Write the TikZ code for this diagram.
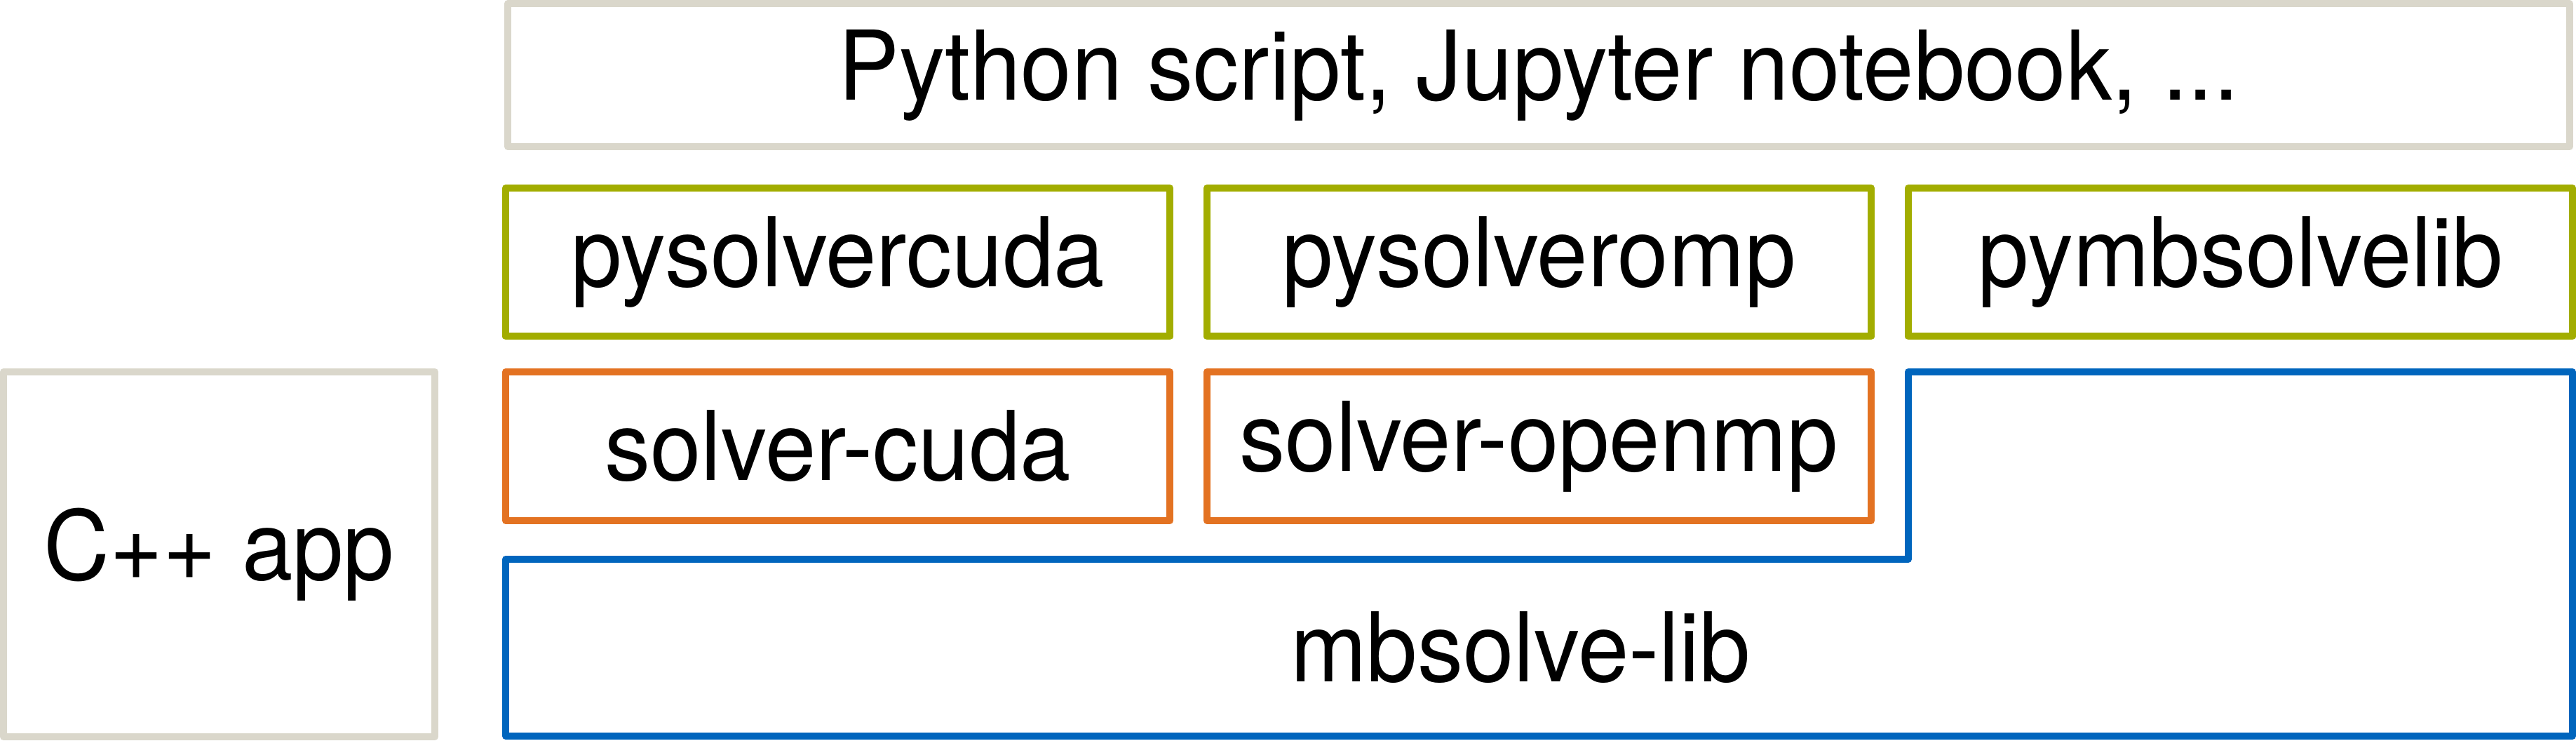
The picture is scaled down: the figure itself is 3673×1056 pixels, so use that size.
\documentclass[tikz,border=0pt]{standalone}
\usepackage{fontspec}
\setmainfont{TeX Gyre Heros}[FakeStretch=0.95]
\definecolor{tumgrey}{HTML}{DAD7CB}
\definecolor{tumgreen}{HTML}{A2AD00}
\definecolor{tumorange}{HTML}{E37222}
\definecolor{tumblue}{HTML}{0065BD}
\begin{document}
\begin{tikzpicture}[x=0.1mm,y=-0.1mm,
		layer/.style={draw,line width=1mm,line join=round,inner sep=0pt,
			font=\fontsize{39}{47}\selectfont},
		appbox/.style={layer,draw=tumgrey},
		pybox/.style={layer,draw=tumgreen,minimum width=94.7mm,minimum height=21.15mm},
		solverbox/.style={layer,draw=tumorange,minimum width=94.7mm,minimum height=21.2mm}]
				\useasboundingbox (0,0) rectangle (3673,1056);
				% Hàng trên cùng
				\node[appbox,minimum width=294mm,minimum height=20.4mm] (script) at (2194,107) {Python script, Jupyter notebook, ...};
				% Các mô-đun Python
				\node[pybox] (pycuda) at (1194.5,373.75) {pysolvercuda};
				\node[pybox] (pyomp) at (2194.5,373.75) {pysolveromp};
				\node[pybox] (pylib) at (3194.5,373.75) {pymbsolvelib};
				% Các bộ giải
				\node[solverbox] (cuda) at (1194.5,636) {solver-cuda};
				\node[solverbox] (omp) at (2194.5,636) {solver-openmp};
				% Thư viện
				\draw[line width=1mm,line join=round,draw=tumblue]
				(721,1049) -- (721,797) -- (2721,797) -- (2721,530) -- (3668,530) -- (3668,1049) -- cycle;
				\node[layer,draw=none] (lib) at (2168,923) {mbsolve-lib};
				% Ứng dụng C++
				\node[appbox,minimum width=61.5mm,minimum height=52mm] (app) at (312.5,790) {C++ app};
		\end{tikzpicture}
\end{document}
